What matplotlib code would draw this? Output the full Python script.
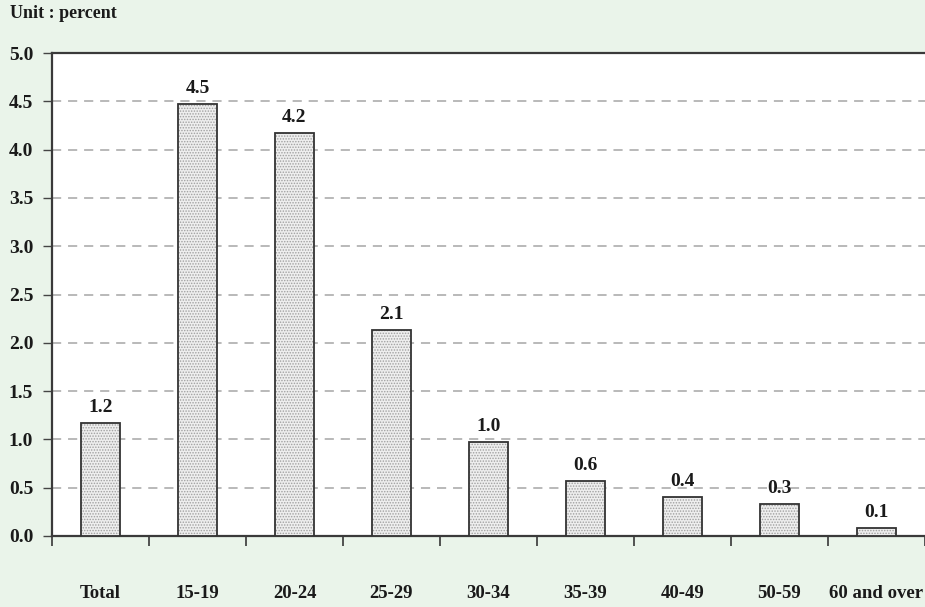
import matplotlib
matplotlib.use("Agg")
import matplotlib.pyplot as plt
import numpy as np

categories = ["Total", "15-19", "20-24", "25-29", "30-34", "35-39", "40-49", "50-59", "60 and over"]
values = [1.17, 4.47, 4.17, 2.13, 0.97, 0.57, 0.40, 0.33, 0.08]
labels = ["1.2", "4.5", "4.2", "2.1", "1.0", "0.6", "0.4", "0.3", "0.1"]
yticks = [0.0, 0.5, 1.0, 1.5, 2.0, 2.5, 3.0, 3.5, 4.0, 4.5, 5.0]

plt.rcParams['font.family'] = ['Liberation Serif', 'DejaVu Serif']
plt.rcParams['font.weight'] = 'bold'
plt.rcParams['hatch.linewidth'] = 0.7

bg = '#EAF4EA'
fig = plt.figure(figsize=(9.25, 6.07), dpi=100, facecolor=bg)
ax = fig.add_axes([52/925, 1-536/607, 1-52/925, (536-53)/607])
ax.set_facecolor('white')

x = np.arange(len(categories))
ax.bar(x, values, width=0.4, color='#eeeeee', edgecolor='#a0a0a0', hatch='......', linewidth=0, zorder=3)
ax.bar(x, values, width=0.4, fill=False, edgecolor='#333333', linewidth=1.3, zorder=4)

for xi, v, lab in zip(x, values, labels):
    ax.annotate(lab, (xi, v), xytext=(0, 5), textcoords='offset points',
                ha='center', va='bottom', fontsize=14, fontweight='bold', color='#1a1a1a')

ax.set_xlim(-0.5, len(categories) - 0.5)
ax.set_ylim(0, 5.0)
ax.set_yticks(yticks)
ax.set_yticklabels([f"{t:.1f}" for t in yticks], fontsize=14, fontweight='bold', color='#1a1a1a')
ax.tick_params(axis='y', direction='out', length=6.5, width=1, color='#444444', pad=7)

ax.set_xticks(np.arange(len(categories) + 1) - 0.5)
ax.set_xticklabels([])
ax.set_xticks(x, minor=True)
ax.set_xticklabels(categories, minor=True, fontsize=13.5, fontweight='bold', color='#1a1a1a')
ax.tick_params(axis='x', which='major', direction='out', length=7.5, width=1.3, color='#444444')
ax.tick_params(axis='x', which='minor', length=0, pad=35.5)

for t in yticks[1:-1]:
    ax.axhline(t, color='#a6a6a6', linewidth=1.1, linestyle=(0, (6, 4.5)), zorder=1)

for s in ['left', 'top', 'bottom']:
    ax.spines[s].set_color('#3a3a3a')
    ax.spines[s].set_linewidth(1.6)
ax.spines['right'].set_visible(False)

fig.text(10/925, 1-14/607, "Unit : percent", fontsize=13, fontweight='bold', color='#1a1a1a', va='center', ha='left')

fig.savefig("out.png", dpi=100, facecolor=bg)
